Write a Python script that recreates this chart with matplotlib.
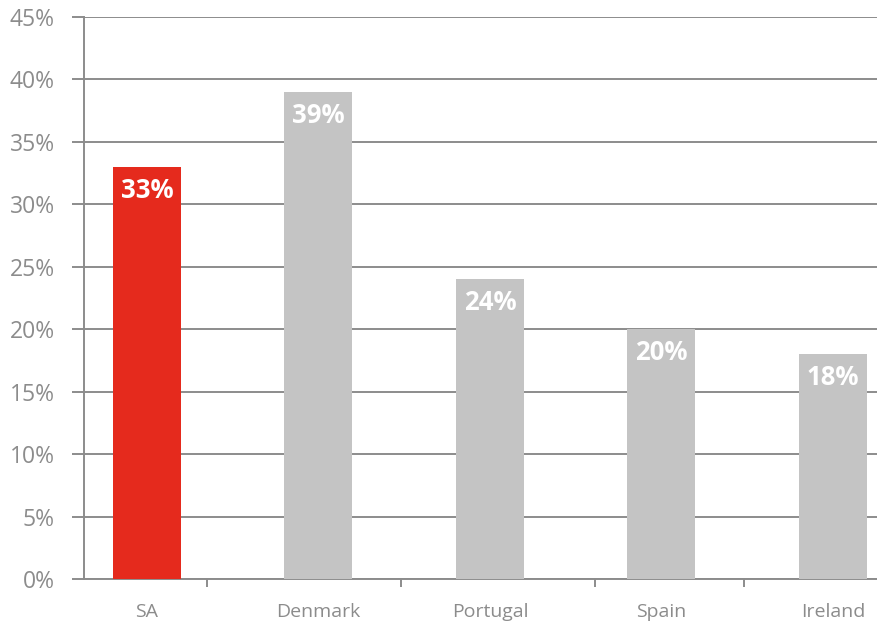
import matplotlib.pyplot as plt
from matplotlib.ticker import FixedLocator

# ---- dati ----
categories = ['SA', 'Denmark', 'Portugal', 'Spain', 'Ireland']
values = [33, 39, 24, 20, 18]
bar_colors = ['#e52a1d', '#c4c4c4', '#c4c4c4', '#c4c4c4', '#c4c4c4']
y_ticks = [0, 5, 10, 15, 20, 25, 30, 35, 40, 45]
sep_ticks = [0.35, 1.48, 2.61, 3.48]  # tacche separatrici asse x

GRID = '#8c8c8c'
TXT = '#8c8c8c'
plt.rcParams['font.family'] = ['Open Sans', 'DejaVu Sans']

fig = plt.figure(figsize=(8.77, 6.26), dpi=100)
ax = fig.add_axes([0.0958, 0.0751, 0.9042, 0.8977])

x = list(range(len(categories)))
ax.bar(x, values, width=0.397, color=bar_colors, zorder=3)

for xi, v in zip(x, values):
    ax.annotate(f'{v}%', (xi, v), xytext=(0, -17), textcoords='offset points',
                ha='center', va='center', color='white', fontsize=18.5,
                fontweight='bold', zorder=4)

ax.set_xlim(-0.367, 4.257)
ax.set_ylim(0, 45)
ax.set_yticks(y_ticks)
ax.set_yticklabels([f'{t}%' for t in y_ticks])
ax.yaxis.grid(True, color=GRID, linewidth=1.4, zorder=1)
ax.set_axisbelow(True)

ax.set_xticks(x)
ax.set_xticklabels(categories)
ax.xaxis.set_minor_locator(FixedLocator(sep_ticks))
ax.tick_params(axis='x', which='major', length=0, pad=17, labelsize=14, labelcolor=TXT)
ax.tick_params(axis='x', which='minor', length=6, width=1.4, color=GRID, direction='out')
ax.tick_params(axis='y', length=9, width=1.4, color=GRID, pad=12, labelsize=16.5, labelcolor=TXT)

for side in ['top', 'right']:
    ax.spines[side].set_visible(False)
for side in ['left', 'bottom']:
    ax.spines[side].set_color(GRID)
    ax.spines[side].set_linewidth(1.4)

fig.savefig('out.png', dpi=100)
